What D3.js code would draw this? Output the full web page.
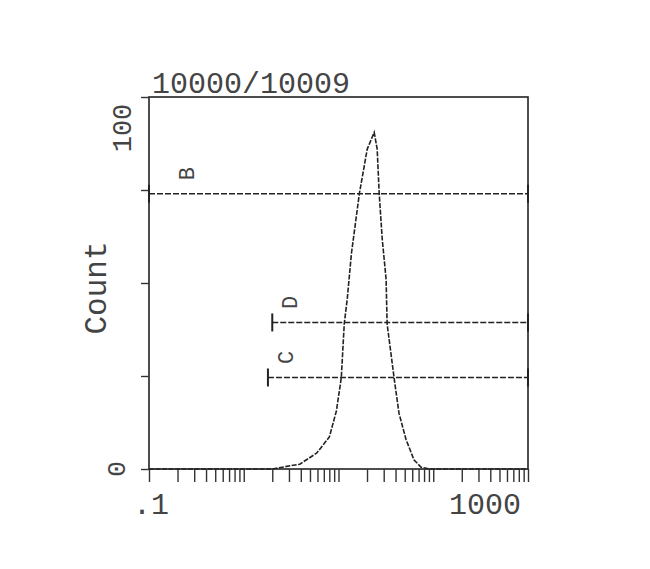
<!DOCTYPE html>
<html lang="en">
<head>
    <meta charset="UTF-8">
    <script src="https://d3js.org/d3.v7.min.js"></script>
    <title>Count histogram</title>
    <style>
        body { margin: 0; background: #fff; }
        text { font-family: "Liberation Mono", "DejaVu Sans Mono", monospace; fill: #444; }
    </style>
</head>
<body>
    <svg width="650" height="569" id="chart"></svg>
    <script>

        // data
        const title = "10000/10009";
        const yLabel = "Count";
        const fluor = [0.1, 2.0, 2.7, 3.9, 5.9, 8.0, 9.5, 10.7, 11.5, 12.4, 13.7, 16.6, 20.1, 23.8,
                       25.6, 26.9, 28.9, 31.8, 32.6, 38.6, 43.5, 51.5, 62.5, 74, 90, 1000];
        const counts = [0, 0, 0.6, 1.3, 4.3, 8.6, 15.6, 24.5, 39, 46, 58, 74, 86, 90.5,
                        86, 74, 62, 51, 39, 24.5, 15, 8, 2.5, 0.5, 0, 0];
        const gateNames = ["B", "D", "C"];
        const gateStart = [0.1, 2.0, 1.8];
        const gateEnd = [1000, 1000, 1000];
        const gateLevel = [74, 39.4, 24.6];
        const yTicks = [0, 25, 50, 75, 100];
        const xLabels = [".1", "1000"];
        const yLabels = ["0", "100"];

        let svg = d3.select("#chart");

        let x = d3.scaleLog().domain([0.1, 1000]).range([149, 528]);
        let y = d3.scaleLinear().domain([0, 100]).range([469, 97]);

        // frame
        svg.append("rect")
            .attr("x", x(0.1))
            .attr("y", y(100))
            .attr("width", x(1000) - x(0.1))
            .attr("height", y(0) - y(100))
            .attr("style", "fill: none; stroke: #222; stroke-width: 1.6");

        // log minor ticks
        let minor = [];
        for (let d = 0.1; d < 1000; d *= 10) {
            for (let k = 1; k < 10; k++) minor.push(+(d * k).toPrecision(3));
        }
        minor.push(1000);
        svg.append("g")
            .attr("transform", "translate(0," + y(0) + ")")
            .call(d3.axisBottom(x).tickValues(minor).tickFormat("").tickSize(13).tickSizeOuter(0))
            .call(g => g.select(".domain").remove())
            .selectAll("line").attr("stroke", "#333").attr("stroke-width", 1.4);

        svg.append("g")
            .attr("transform", "translate(" + x(0.1) + ",0)")
            .call(d3.axisLeft(y).tickValues(yTicks).tickFormat("").tickSize(8).tickSizeOuter(0))
            .call(g => g.select(".domain").remove())
            .selectAll("line").attr("stroke", "#333").attr("stroke-width", 1.4);

        // histogram
        let line = d3.line()
            .x((d, i) => x(fluor[i]))
            .y(d => y(d));
        svg.append("path")
            .datum(counts)
            .attr("d", line)
            .attr("style", "fill: none; stroke: #222; stroke-width: 1.6; stroke-dasharray: 5,1.5");

        // gate markers
        gateNames.forEach((name, i) => {
            let gy = y(gateLevel[i]);
            svg.append("line")
                .attr("x1", x(gateStart[i]))
                .attr("x2", x(gateEnd[i]))
                .attr("y1", gy)
                .attr("y2", gy)
                .attr("style", "stroke: #222; stroke-width: 1.4; stroke-dasharray: 6,2");
            [gateStart[i], gateEnd[i]].forEach(v => {
                svg.append("line")
                    .attr("x1", x(v))
                    .attr("x2", x(v))
                    .attr("y1", gy - 9)
                    .attr("y2", gy + 9)
                    .attr("style", "stroke: #222; stroke-width: 2");
            });
            let lx = x(gateStart[i]) + (i == 0 ? 37 : 17);
            svg.append("text")
                .attr("transform", "translate(" + lx + "," + (gy - 20) + ") rotate(-90)")
                .attr("text-anchor", "middle")
                .attr("dy", "0.35em")
                .attr("font-size", 22)
                .text(name);
        });

        // texts
        svg.append("text")
            .attr("x", 152)
            .attr("y", 93)
            .attr("font-size", 30)
            .text(title);

        svg.append("text")
            .attr("x", 133)
            .attr("y", 514)
            .attr("font-size", 30)
            .text(xLabels[0]);

        svg.append("text")
            .attr("x", 521)
            .attr("y", 514)
            .attr("text-anchor", "end")
            .attr("font-size", 30)
            .text(xLabels[1]);

        svg.append("text")
            .attr("transform", "translate(116," + y(0) + ") rotate(-90)")
            .attr("text-anchor", "middle")
            .attr("dy", "0.35em")
            .attr("font-size", 26)
            .text(yLabels[0]);

        svg.append("text")
            .attr("transform", "translate(122,128) rotate(-90)")
            .attr("text-anchor", "middle")
            .attr("dy", "0.35em")
            .attr("font-size", 27)
            .text(yLabels[1]);

        svg.append("text")
            .attr("transform", "translate(95,288) rotate(-90)")
            .attr("text-anchor", "middle")
            .attr("dy", "0.35em")
            .attr("font-size", 31)
            .text(yLabel);

    </script>
</body>
</html>
